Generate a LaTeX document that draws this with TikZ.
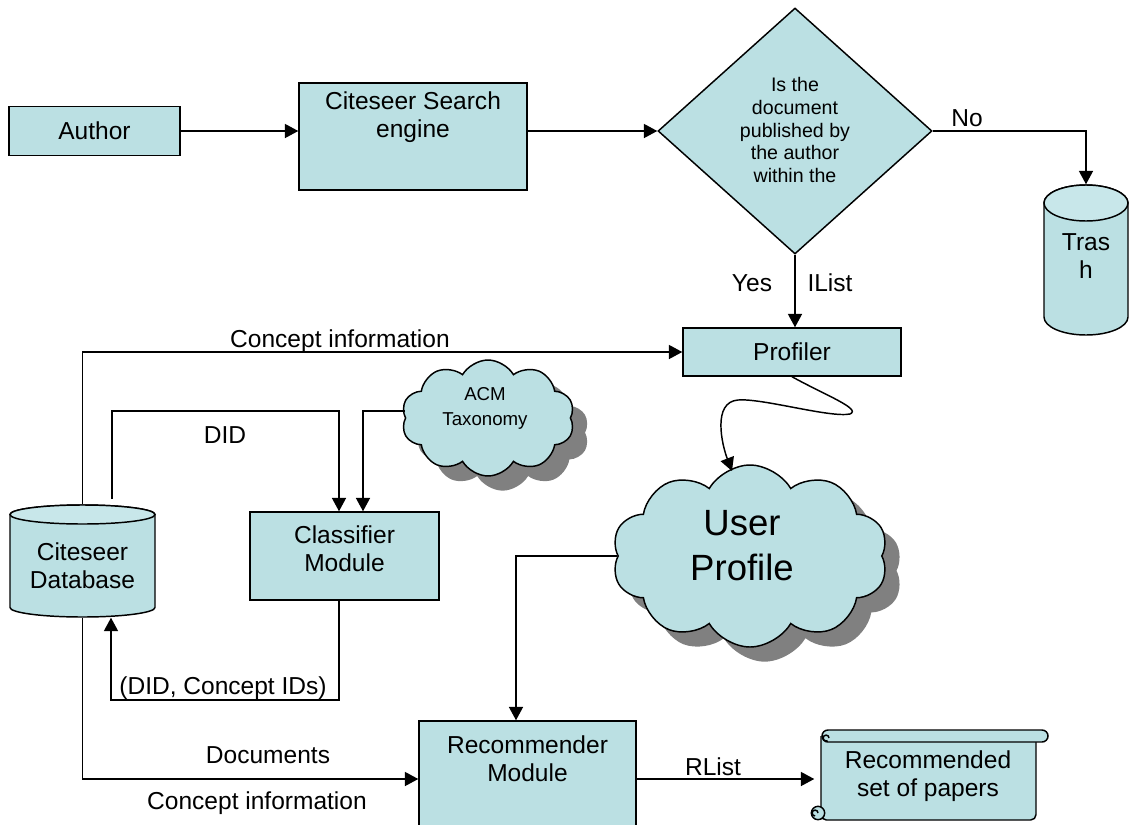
\documentclass[tikz,border=0pt]{standalone}
\usepackage{fontspec}
\setmainfont{Liberation Sans}
\usetikzlibrary{shapes.geometric,shapes.symbols,arrows.meta,shadows}
\definecolor{boxfill}{RGB}{187,224,227}
\definecolor{boxtop}{RGB}{200,231,234}
\definecolor{shadowgray}{RGB}{128,128,128}
\begin{document}
\begin{tikzpicture}[x=0.75pt,y=-0.75pt, line width=1.1pt,
  every node/.style={font=\fontsize{18.4}{21}\selectfont, inner sep=0pt, align=center},
  box/.style={draw, fill=boxfill},
  anchorbox/.style={draw=none, fill=none},
  conn/.style={-{Triangle[length=10pt,width=10.5pt]}},
  cloudbox/.style={cloud, cloud puffs=10, cloud puff arc=120, cloud ignores aspect, draw, fill=boxfill,
     drop shadow={shadow xshift=11pt, shadow yshift=-11pt, fill=shadowgray, opacity=1, draw=none}},
]
\clip (0,0) rectangle (1129,825);

% ---------- boxes ----------
\node[box, minimum width=128.25pt, minimum height=36.75pt] (author) at (94.5,131) {Author};
\node[box, minimum width=171pt, minimum height=80.25pt] (search) at (413,136.5) {};
\node (searchT) at (413,117) {Citeseer Search\\engine};

\node[diamond, draw, fill=boxfill, minimum width=205.5pt, minimum height=184.5pt] (dia) at (795,131) {};
\node[font=\fontsize{14.7}{16.9}\selectfont] (diaT) at (795,130) {Is the\\document\\published by\\the author\\within the};

% trash cylinder
\node[anchorbox, minimum width=63pt, minimum height=112.5pt] (trash) at (1086,260) {};
\filldraw[fill=boxfill] (1044,203) -- (1044,317) arc[start angle=180, end angle=360, x radius=31.5pt, y radius=13.5pt]
   -- (1128,203) arc[start angle=0, end angle=180, x radius=31.5pt, y radius=13.5pt] -- cycle;
\filldraw[fill=boxtop] (1086,203) ellipse [x radius=31.5pt, y radius=13.5pt];
\node (trashT) at (1086,256) {Tras\\h};

\node[box, minimum width=163.5pt, minimum height=36pt] (prof) at (792,352) {Profiler};

% database cylinder
\node[anchorbox, minimum width=108.75pt, minimum height=84pt] (db) at (82.5,561) {};
\filldraw[fill=boxfill] (10,514.5) -- (10,607.5) arc[start angle=180, end angle=360, x radius=54.375pt, y radius=7.125pt]
   -- (155,514.5) arc[start angle=0, end angle=180, x radius=54.375pt, y radius=7.125pt] -- cycle;
\filldraw[fill=boxtop] (82.5,514.5) ellipse [x radius=54.375pt, y radius=7.125pt];
\node (dbT) at (82.5,566) {Citeseer\\Database};

\node[box, minimum width=141.75pt, minimum height=66pt] (cls) at (344.5,556) {};
\node (clsT) at (344.5,549) {Classifier\\Module};

\node[box, minimum width=162.75pt, minimum height=87pt] (rec) at (527.5,779) {};
\node (recT) at (527.5,759) {Recommender\\Module};

% clouds
\node[cloudbox, minimum width=129.75pt, minimum height=87pt] (acm) at (488,418) {};
\node[font=\fontsize{14}{18.75}\selectfont] (acmT) at (485,408) {ACM\\Taxonomy};

\node[cloudbox, minimum width=207pt, minimum height=136.5pt] (up) at (750,556) {};
\node[font=\fontsize{27.4}{33.75}\selectfont] (upT) at (742,546) {User\\Profile};

% scroll
\node[anchorbox, minimum width=174.75pt, minimum height=67.5pt] (scroll) at (931.5,775) {};
\filldraw[fill=boxfill, rounded corners=4pt] (821,736) -- (821,820) -- (1036,820) -- (1036,740);
\filldraw[fill=boxfill] (828,730) -- (1042,730) arc[start angle=90, end angle=-90, radius=4.5pt]
   -- (828,742) arc[start angle=270, end angle=90, radius=4.5pt] -- cycle;
\draw (829,738) arc[start angle=0, end angle=300, radius=2.2pt];
\filldraw[fill=boxfill] (818,813) circle[radius=5pt];
\draw (818,813) arc[start angle=0, end angle=270, radius=2.2pt];
\node (scrollT) at (928,776) {Recommended\\set of papers};

% ---------- connectors ----------
\draw[conn] (author.east) -- (author.east -| search.west);
\draw[conn] (search.east |- dia.west) -- (dia.west);
\draw[conn] (dia.east) -| (trash.north);
\draw[conn] (dia.south) -- (dia.south |- prof.north);
\draw[conn] (db.north) |- (prof.west);
\coordinate (didstart) at (112,499);
\draw[conn] (didstart) |- (339,411) -- (339,411 |- cls.north);
\draw[conn] (acm.west |- 0,411) -| (363,411 |- cls.north);
\draw[conn] (cls.south -| 339,0) |- (111,700) -- (111,700 |- db.south);
\draw[conn] (db.south) |- (rec.west);
\draw[conn] (up.west) -| (rec.north -| 516,0);
\draw[conn] (rec.east) -- (rec.east -| scroll.west);
\coordinate (uptop) at (732,471);
\draw[conn] (prof.south) .. controls (825,395) and (862,409) .. (850,414)
   .. controls (830,418) and (762,398) .. (738,400)
   .. controls (712,402) and (722,445) .. (uptop);

% ---------- labels ----------
\node (noL) at (967,118) {No};
\node (yesL) at (752,283) {Yes};
\node (ilistL) at (830,283) {IList};
\node (ci1) at (340,341) {Concept information};
\node (didL) at (225,435) {DID};
\node (fbL) at (223,688) {(DID, Concept IDs)};
\node (docL) at (268,755) {Documents};
\node (ci2) at (257,803) {Concept information};
\node (rlistL) at (713,767) {RList};
\end{tikzpicture}
\end{document}
